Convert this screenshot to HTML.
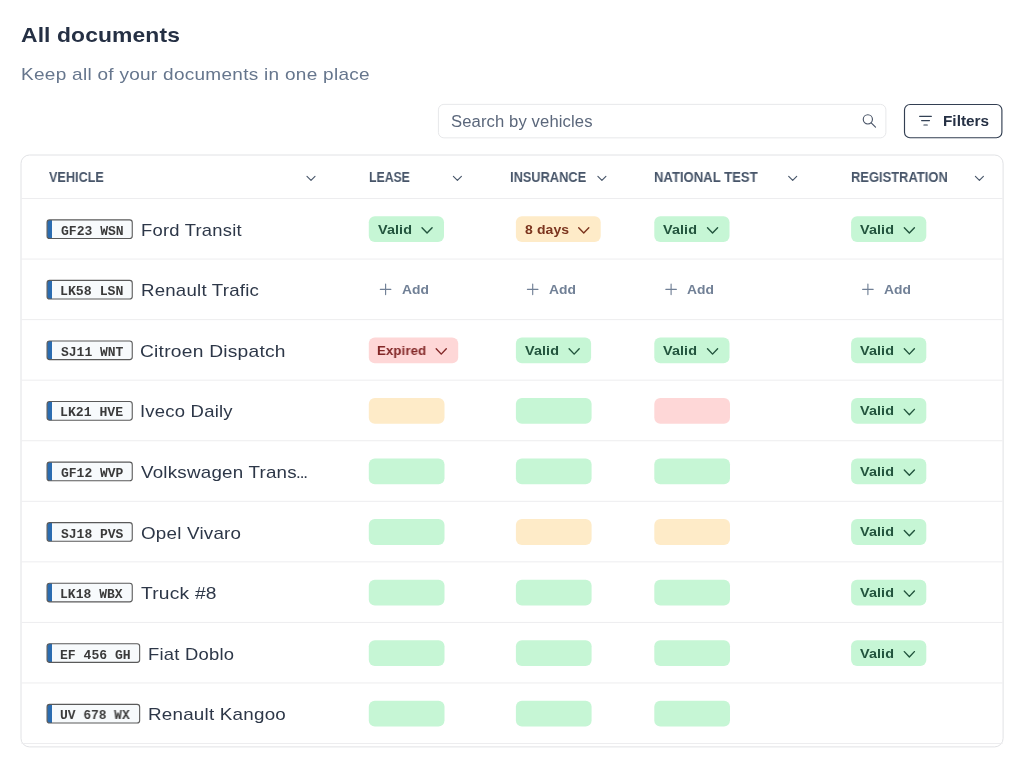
<!DOCTYPE html>
<html><head><meta charset="utf-8"><title>All documents</title>
<style>
*{box-sizing:border-box;margin:0;padding:0}
html,body{width:1024px;height:768px;overflow:hidden;background:#fff}
body{font-family:"Liberation Sans",sans-serif;position:relative;color:#2d3748}
#g{position:absolute;left:0;top:0;width:1024px;height:768px}
.t{position:absolute;white-space:pre;line-height:1;margin:0;will-change:transform;transform-origin:0 0}
.m{font-family:"Liberation Mono",monospace}
</style></head><body>
<svg id="g" width="1024" height="768" viewBox="0 0 1024 768">
<rect x="438.40" y="104.35" width="447.50" height="33.50" rx="5.5" fill="#fff" stroke="#e7e8ea" stroke-width="1"/>
<circle cx="867.85" cy="119.35" r="4.6" fill="none" stroke="#4a5568" stroke-width="1.15"/>
<path d="M871.2 122.8L875.5 127.2" fill="none" stroke="#4a5568" stroke-width="1.15" stroke-linecap="round" stroke-linejoin="round"/>
<rect x="904.50" y="104.45" width="97.40" height="33.30" rx="5.5" fill="#fff" stroke="#333f52" stroke-width="1.15"/>
<path d="M919.6 116.3H931.4M921.6 120.6H929.5M923.9 125H927.3" fill="none" stroke="#334155" stroke-width="1.15" stroke-linecap="round" stroke-linejoin="round"/>
<rect x="21.00" y="155.00" width="982.10" height="591.90" rx="8.5" fill="#fff" stroke="#e1e2e5" stroke-width="1"/>
<path d="M21.5 198.50H1002.6" stroke="#ededef" stroke-width="1"/>
<path d="M21.5 259.06H1002.6" stroke="#ededef" stroke-width="1"/>
<path d="M21.5 319.62H1002.6" stroke="#ededef" stroke-width="1"/>
<path d="M21.5 380.18H1002.6" stroke="#ededef" stroke-width="1"/>
<path d="M21.5 440.74H1002.6" stroke="#ededef" stroke-width="1"/>
<path d="M21.5 501.30H1002.6" stroke="#ededef" stroke-width="1"/>
<path d="M21.5 561.86H1002.6" stroke="#ededef" stroke-width="1"/>
<path d="M21.5 622.42H1002.6" stroke="#ededef" stroke-width="1"/>
<path d="M21.5 682.98H1002.6" stroke="#ededef" stroke-width="1"/>
<path d="M21.5 743.54H1002.6" stroke="#ededef" stroke-width="1"/>
<path d="M307.00 176.40L311.00 180.30L315.00 176.40" fill="none" stroke="#475569" stroke-width="1.15" stroke-linecap="round" stroke-linejoin="round"/>
<path d="M453.40 176.40L457.40 180.30L461.40 176.40" fill="none" stroke="#475569" stroke-width="1.15" stroke-linecap="round" stroke-linejoin="round"/>
<path d="M597.90 176.40L601.90 180.30L605.90 176.40" fill="none" stroke="#475569" stroke-width="1.15" stroke-linecap="round" stroke-linejoin="round"/>
<path d="M788.70 176.40L792.70 180.30L796.70 176.40" fill="none" stroke="#475569" stroke-width="1.15" stroke-linecap="round" stroke-linejoin="round"/>
<path d="M975.40 176.40L979.40 180.30L983.40 176.40" fill="none" stroke="#475569" stroke-width="1.15" stroke-linecap="round" stroke-linejoin="round"/>
<rect x="47.05" y="219.85" width="85.20" height="18.65" rx="2.6" fill="#f7fafc"/>
<path d="M49.50 219.90H52.00V238.45H49.50A2.4 2.4 0 0 1 47.10 236.05V222.30A2.4 2.4 0 0 1 49.50 219.90Z" fill="#2b6cb0"/>
<rect x="47.05" y="219.85" width="85.20" height="18.65" rx="2.6" fill="none" stroke="#5a5a5a" stroke-width="1.1"/>
<rect x="368.80" y="216.30" width="75.20" height="25.80" rx="6" fill="#c6f6d5"/>
<path d="M422.00 227.70L427.05 233.00L432.10 227.70" fill="none" stroke="#22543d" stroke-width="1.4" stroke-linecap="round" stroke-linejoin="round"/>
<rect x="515.90" y="216.30" width="84.80" height="25.80" rx="6" fill="#feebc8"/>
<path d="M578.70 227.70L583.75 233.00L588.80 227.70" fill="none" stroke="#7b341e" stroke-width="1.4" stroke-linecap="round" stroke-linejoin="round"/>
<rect x="654.30" y="216.30" width="75.20" height="25.80" rx="6" fill="#c6f6d5"/>
<path d="M707.50 227.70L712.55 233.00L717.60 227.70" fill="none" stroke="#22543d" stroke-width="1.4" stroke-linecap="round" stroke-linejoin="round"/>
<rect x="851.10" y="216.30" width="75.20" height="25.80" rx="6" fill="#c6f6d5"/>
<path d="M904.30 227.70L909.35 233.00L914.40 227.70" fill="none" stroke="#22543d" stroke-width="1.4" stroke-linecap="round" stroke-linejoin="round"/>
<rect x="47.05" y="280.41" width="85.20" height="18.65" rx="2.6" fill="#f7fafc"/>
<path d="M49.50 280.46H52.00V299.01H49.50A2.4 2.4 0 0 1 47.10 296.61V282.86A2.4 2.4 0 0 1 49.50 280.46Z" fill="#2b6cb0"/>
<rect x="47.05" y="280.41" width="85.20" height="18.65" rx="2.6" fill="none" stroke="#5a5a5a" stroke-width="1.1"/>
<path d="M385.60 284.00V294.60M380.30 289.30H390.90" fill="none" stroke="#718096" stroke-width="1.15" stroke-linecap="round" stroke-linejoin="round"/>
<path d="M532.70 284.00V294.60M527.40 289.30H538.00" fill="none" stroke="#718096" stroke-width="1.15" stroke-linecap="round" stroke-linejoin="round"/>
<path d="M671.10 284.00V294.60M665.80 289.30H676.40" fill="none" stroke="#718096" stroke-width="1.15" stroke-linecap="round" stroke-linejoin="round"/>
<path d="M867.90 284.00V294.60M862.60 289.30H873.20" fill="none" stroke="#718096" stroke-width="1.15" stroke-linecap="round" stroke-linejoin="round"/>
<rect x="47.05" y="340.97" width="85.20" height="18.65" rx="2.6" fill="#f7fafc"/>
<path d="M49.50 341.02H52.00V359.57H49.50A2.4 2.4 0 0 1 47.10 357.17V343.42A2.4 2.4 0 0 1 49.50 341.02Z" fill="#2b6cb0"/>
<rect x="47.05" y="340.97" width="85.20" height="18.65" rx="2.6" fill="none" stroke="#5a5a5a" stroke-width="1.1"/>
<rect x="368.80" y="337.42" width="89.40" height="25.80" rx="6" fill="#fed7d7"/>
<path d="M436.20 348.82L441.25 354.12L446.30 348.82" fill="none" stroke="#822727" stroke-width="1.4" stroke-linecap="round" stroke-linejoin="round"/>
<rect x="515.90" y="337.42" width="75.20" height="25.80" rx="6" fill="#c6f6d5"/>
<path d="M569.10 348.82L574.15 354.12L579.20 348.82" fill="none" stroke="#22543d" stroke-width="1.4" stroke-linecap="round" stroke-linejoin="round"/>
<rect x="654.30" y="337.42" width="75.20" height="25.80" rx="6" fill="#c6f6d5"/>
<path d="M707.50 348.82L712.55 354.12L717.60 348.82" fill="none" stroke="#22543d" stroke-width="1.4" stroke-linecap="round" stroke-linejoin="round"/>
<rect x="851.10" y="337.42" width="75.20" height="25.80" rx="6" fill="#c6f6d5"/>
<path d="M904.30 348.82L909.35 354.12L914.40 348.82" fill="none" stroke="#22543d" stroke-width="1.4" stroke-linecap="round" stroke-linejoin="round"/>
<rect x="47.05" y="401.53" width="85.20" height="18.65" rx="2.6" fill="#f7fafc"/>
<path d="M49.50 401.58H52.00V420.13H49.50A2.4 2.4 0 0 1 47.10 417.73V403.98A2.4 2.4 0 0 1 49.50 401.58Z" fill="#2b6cb0"/>
<rect x="47.05" y="401.53" width="85.20" height="18.65" rx="2.6" fill="none" stroke="#5a5a5a" stroke-width="1.1"/>
<rect x="368.80" y="397.98" width="75.70" height="25.80" rx="6" fill="#feebc8"/>
<rect x="515.90" y="397.98" width="75.70" height="25.80" rx="6" fill="#c6f6d5"/>
<rect x="654.30" y="397.98" width="75.70" height="25.80" rx="6" fill="#fed7d7"/>
<rect x="851.10" y="397.98" width="75.20" height="25.80" rx="6" fill="#c6f6d5"/>
<path d="M904.30 409.38L909.35 414.68L914.40 409.38" fill="none" stroke="#22543d" stroke-width="1.4" stroke-linecap="round" stroke-linejoin="round"/>
<rect x="47.05" y="462.09" width="85.20" height="18.65" rx="2.6" fill="#f7fafc"/>
<path d="M49.50 462.14H52.00V480.69H49.50A2.4 2.4 0 0 1 47.10 478.29V464.54A2.4 2.4 0 0 1 49.50 462.14Z" fill="#2b6cb0"/>
<rect x="47.05" y="462.09" width="85.20" height="18.65" rx="2.6" fill="none" stroke="#5a5a5a" stroke-width="1.1"/>
<rect x="368.80" y="458.54" width="75.70" height="25.80" rx="6" fill="#c6f6d5"/>
<rect x="515.90" y="458.54" width="75.70" height="25.80" rx="6" fill="#c6f6d5"/>
<rect x="654.30" y="458.54" width="75.70" height="25.80" rx="6" fill="#c6f6d5"/>
<rect x="851.10" y="458.54" width="75.20" height="25.80" rx="6" fill="#c6f6d5"/>
<path d="M904.30 469.94L909.35 475.24L914.40 469.94" fill="none" stroke="#22543d" stroke-width="1.4" stroke-linecap="round" stroke-linejoin="round"/>
<rect x="47.05" y="522.65" width="85.20" height="18.65" rx="2.6" fill="#f7fafc"/>
<path d="M49.50 522.70H52.00V541.25H49.50A2.4 2.4 0 0 1 47.10 538.85V525.10A2.4 2.4 0 0 1 49.50 522.70Z" fill="#2b6cb0"/>
<rect x="47.05" y="522.65" width="85.20" height="18.65" rx="2.6" fill="none" stroke="#5a5a5a" stroke-width="1.1"/>
<rect x="368.80" y="519.10" width="75.70" height="25.80" rx="6" fill="#c6f6d5"/>
<rect x="515.90" y="519.10" width="75.70" height="25.80" rx="6" fill="#feebc8"/>
<rect x="654.30" y="519.10" width="75.70" height="25.80" rx="6" fill="#feebc8"/>
<rect x="851.10" y="519.10" width="75.20" height="25.80" rx="6" fill="#c6f6d5"/>
<path d="M904.30 530.50L909.35 535.80L914.40 530.50" fill="none" stroke="#22543d" stroke-width="1.4" stroke-linecap="round" stroke-linejoin="round"/>
<rect x="47.05" y="583.21" width="85.20" height="18.65" rx="2.6" fill="#f7fafc"/>
<path d="M49.50 583.26H52.00V601.81H49.50A2.4 2.4 0 0 1 47.10 599.41V585.66A2.4 2.4 0 0 1 49.50 583.26Z" fill="#2b6cb0"/>
<rect x="47.05" y="583.21" width="85.20" height="18.65" rx="2.6" fill="none" stroke="#5a5a5a" stroke-width="1.1"/>
<rect x="368.80" y="579.66" width="75.70" height="25.80" rx="6" fill="#c6f6d5"/>
<rect x="515.90" y="579.66" width="75.70" height="25.80" rx="6" fill="#c6f6d5"/>
<rect x="654.30" y="579.66" width="75.70" height="25.80" rx="6" fill="#c6f6d5"/>
<rect x="851.10" y="579.66" width="75.20" height="25.80" rx="6" fill="#c6f6d5"/>
<path d="M904.30 591.06L909.35 596.36L914.40 591.06" fill="none" stroke="#22543d" stroke-width="1.4" stroke-linecap="round" stroke-linejoin="round"/>
<rect x="47.05" y="643.77" width="92.60" height="18.65" rx="2.6" fill="#f7fafc"/>
<path d="M49.50 643.82H52.00V662.37H49.50A2.4 2.4 0 0 1 47.10 659.97V646.22A2.4 2.4 0 0 1 49.50 643.82Z" fill="#2b6cb0"/>
<rect x="47.05" y="643.77" width="92.60" height="18.65" rx="2.6" fill="none" stroke="#5a5a5a" stroke-width="1.1"/>
<rect x="368.80" y="640.22" width="75.70" height="25.80" rx="6" fill="#c6f6d5"/>
<rect x="515.90" y="640.22" width="75.70" height="25.80" rx="6" fill="#c6f6d5"/>
<rect x="654.30" y="640.22" width="75.70" height="25.80" rx="6" fill="#c6f6d5"/>
<rect x="851.10" y="640.22" width="75.20" height="25.80" rx="6" fill="#c6f6d5"/>
<path d="M904.30 651.62L909.35 656.92L914.40 651.62" fill="none" stroke="#22543d" stroke-width="1.4" stroke-linecap="round" stroke-linejoin="round"/>
<rect x="47.05" y="704.33" width="92.60" height="18.65" rx="2.6" fill="#f7fafc"/>
<path d="M49.50 704.38H52.00V722.93H49.50A2.4 2.4 0 0 1 47.10 720.53V706.78A2.4 2.4 0 0 1 49.50 704.38Z" fill="#2b6cb0"/>
<rect x="47.05" y="704.33" width="92.60" height="18.65" rx="2.6" fill="none" stroke="#5a5a5a" stroke-width="1.1"/>
<rect x="368.80" y="700.78" width="75.70" height="25.80" rx="6" fill="#c6f6d5"/>
<rect x="515.90" y="700.78" width="75.70" height="25.80" rx="6" fill="#c6f6d5"/>
<rect x="654.30" y="700.78" width="75.70" height="25.80" rx="6" fill="#c6f6d5"/>
</svg>
<h1 class="t" style="left:21.03px;top:24.25px;font-size:21px;font-weight:700;color:#253044;letter-spacing:0.100px;transform:scaleX(1.0891);">All documents</h1>
<p class="t" style="left:20.88px;top:66.25px;font-size:17px;font-weight:400;color:#66768d;letter-spacing:0.250px;transform:scaleX(1.1175);">Keep all of your documents in one place</p>
<div class="t" style="left:450.75px;top:113.75px;font-size:16px;font-weight:400;color:#5b677b;letter-spacing:0.100px;transform:scaleX(1.0405);">Search by vehicles</div>
<div class="t" style="left:942.80px;top:113.25px;font-size:15px;font-weight:700;color:#253044;letter-spacing:0.000px;transform:scaleX(1.0225);">Filters</div>
<div class="t" style="left:48.74px;top:170.25px;font-size:14px;font-weight:700;color:#475569;letter-spacing:0.000px;transform:scaleX(0.9041);">VEHICLE</div>
<div class="t" style="left:368.90px;top:170.25px;font-size:14px;font-weight:700;color:#475569;letter-spacing:0.000px;transform:scaleX(0.8757);">LEASE</div>
<div class="t" style="left:510.07px;top:170.25px;font-size:14px;font-weight:700;color:#475569;letter-spacing:0.000px;transform:scaleX(0.9141);">INSURANCE</div>
<div class="t" style="left:653.95px;top:170.25px;font-size:14px;font-weight:700;color:#475569;letter-spacing:0.000px;transform:scaleX(0.9360);">NATIONAL TEST</div>
<div class="t" style="left:850.86px;top:170.25px;font-size:14px;font-weight:700;color:#475569;letter-spacing:0.000px;transform:scaleX(0.9232);">REGISTRATION</div>
<div class="t m" style="left:60.58px;top:225.25px;font-size:13px;font-weight:700;color:#3a3a3a;letter-spacing:0.000px;transform:scaleX(1.0043);">GF23 WSN</div>
<div class="t" style="left:140.53px;top:222.25px;font-size:17px;font-weight:400;color:#2d3748;letter-spacing:0.200px;transform:scaleX(1.0825);">Ford Transit</div>
<div class="t" style="left:377.63px;top:223.05px;font-size:13.4px;font-weight:700;color:#22543d;letter-spacing:0.100px;transform:scaleX(1.0731);">Valid</div>
<div class="t" style="left:524.68px;top:223.05px;font-size:13.4px;font-weight:700;color:#7b341e;letter-spacing:0.100px;transform:scaleX(1.0452);">8 days</div>
<div class="t" style="left:663.13px;top:223.05px;font-size:13.4px;font-weight:700;color:#22543d;letter-spacing:0.100px;transform:scaleX(1.0731);">Valid</div>
<div class="t" style="left:859.93px;top:223.05px;font-size:13.4px;font-weight:700;color:#22543d;letter-spacing:0.100px;transform:scaleX(1.0731);">Valid</div>
<div class="t m" style="left:59.78px;top:285.25px;font-size:13px;font-weight:700;color:#3a3a3a;letter-spacing:0.000px;transform:scaleX(1.0173);">LK58 LSN</div>
<div class="t" style="left:140.51px;top:282.25px;font-size:17px;font-weight:400;color:#2d3748;letter-spacing:0.200px;transform:scaleX(1.0964);">Renault Trafic</div>
<div class="t" style="left:401.55px;top:282.95px;font-size:13.6px;font-weight:700;color:#718096;letter-spacing:0.000px;transform:scaleX(1.0187);">Add</div>
<div class="t" style="left:548.65px;top:282.95px;font-size:13.6px;font-weight:700;color:#718096;letter-spacing:0.000px;transform:scaleX(1.0187);">Add</div>
<div class="t" style="left:687.05px;top:282.95px;font-size:13.6px;font-weight:700;color:#718096;letter-spacing:0.000px;transform:scaleX(1.0187);">Add</div>
<div class="t" style="left:883.85px;top:282.95px;font-size:13.6px;font-weight:700;color:#718096;letter-spacing:0.000px;transform:scaleX(1.0187);">Add</div>
<div class="t m" style="left:60.84px;top:346.25px;font-size:13px;font-weight:700;color:#3a3a3a;letter-spacing:0.000px;transform:scaleX(0.9927);">SJ11 WNT</div>
<div class="t" style="left:140.44px;top:343.25px;font-size:17px;font-weight:400;color:#2d3748;letter-spacing:0.200px;transform:scaleX(1.1312);">Citroen Dispatch</div>
<div class="t" style="left:377.14px;top:344.05px;font-size:13.4px;font-weight:700;color:#822727;letter-spacing:0.100px;transform:scaleX(0.9881);">Expired</div>
<div class="t" style="left:524.73px;top:344.05px;font-size:13.4px;font-weight:700;color:#22543d;letter-spacing:0.100px;transform:scaleX(1.0731);">Valid</div>
<div class="t" style="left:663.13px;top:344.05px;font-size:13.4px;font-weight:700;color:#22543d;letter-spacing:0.100px;transform:scaleX(1.0731);">Valid</div>
<div class="t" style="left:859.93px;top:344.05px;font-size:13.4px;font-weight:700;color:#22543d;letter-spacing:0.100px;transform:scaleX(1.0731);">Valid</div>
<div class="t m" style="left:59.78px;top:406.25px;font-size:13px;font-weight:700;color:#3a3a3a;letter-spacing:0.000px;transform:scaleX(1.0119);">LK21 HVE</div>
<div class="t" style="left:140.34px;top:403.25px;font-size:17px;font-weight:400;color:#2d3748;letter-spacing:0.200px;transform:scaleX(1.0873);">Iveco Daily</div>
<div class="t" style="left:859.93px;top:404.05px;font-size:13.4px;font-weight:700;color:#22543d;letter-spacing:0.100px;transform:scaleX(1.0731);">Valid</div>
<div class="t m" style="left:60.58px;top:467.25px;font-size:13px;font-weight:700;color:#3a3a3a;letter-spacing:0.000px;transform:scaleX(0.9990);">GF12 WVP</div>
<div class="t" style="left:141.31px;top:464.25px;font-size:17px;font-weight:400;color:#2d3748;letter-spacing:0.200px;transform:scaleX(1.1043);">Volkswagen Trans</div>
<div class="t" style="left:295.87px;top:464.25px;font-size:17px;font-weight:400;color:#2d3748;letter-spacing:-1.067px;">...</div>
<div class="t" style="left:859.93px;top:465.05px;font-size:13.4px;font-weight:700;color:#22543d;letter-spacing:0.100px;transform:scaleX(1.0731);">Valid</div>
<div class="t m" style="left:60.84px;top:528.25px;font-size:13px;font-weight:700;color:#3a3a3a;letter-spacing:0.000px;transform:scaleX(0.9927);">SJ18 PVS</div>
<div class="t" style="left:140.55px;top:525.25px;font-size:17px;font-weight:400;color:#2d3748;letter-spacing:0.200px;transform:scaleX(1.1051);">Opel Vivaro</div>
<div class="t" style="left:859.93px;top:525.05px;font-size:13.4px;font-weight:700;color:#22543d;letter-spacing:0.100px;transform:scaleX(1.0731);">Valid</div>
<div class="t m" style="left:59.80px;top:588.25px;font-size:13px;font-weight:700;color:#3a3a3a;letter-spacing:0.000px;transform:scaleX(1.0033);">LK18 WBX</div>
<div class="t" style="left:141.22px;top:585.25px;font-size:17px;font-weight:400;color:#2d3748;letter-spacing:0.200px;transform:scaleX(1.1287);">Truck #8</div>
<div class="t" style="left:859.93px;top:586.05px;font-size:13.4px;font-weight:700;color:#22543d;letter-spacing:0.100px;transform:scaleX(1.0731);">Valid</div>
<div class="t m" style="left:60.25px;top:649.25px;font-size:13px;font-weight:700;color:#3a3a3a;letter-spacing:0.000px;transform:scaleX(1.0057);">EF 456 GH</div>
<div class="t" style="left:147.93px;top:646.25px;font-size:17px;font-weight:400;color:#2d3748;letter-spacing:0.200px;transform:scaleX(1.0843);">Fiat Doblo</div>
<div class="t" style="left:859.93px;top:647.05px;font-size:13.4px;font-weight:700;color:#22543d;letter-spacing:0.100px;transform:scaleX(1.0731);">Valid</div>
<div class="t m" style="left:60.33px;top:709.25px;font-size:13px;font-weight:700;color:#3a3a3a;letter-spacing:0.000px;transform:scaleX(0.9925);">UV 678 WX</div>
<div class="t" style="left:147.90px;top:706.25px;font-size:17px;font-weight:400;color:#2d3748;letter-spacing:0.200px;transform:scaleX(1.1066);">Renault Kangoo</div>
</body></html>
